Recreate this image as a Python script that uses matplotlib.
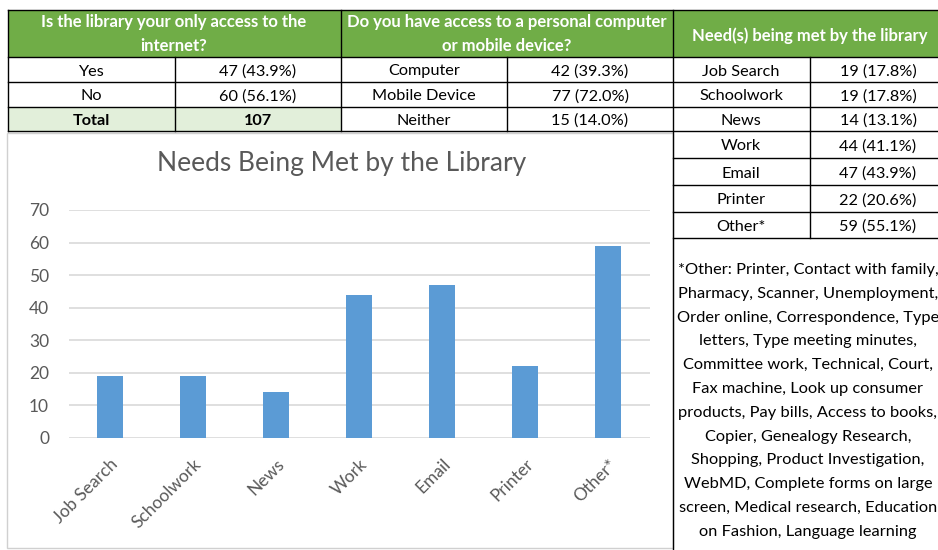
import numpy as np
import matplotlib.pyplot as plt

plt.rcParams['font.family'] = ['Lato', 'DejaVu Sans']

''' Data '''
needs = ['Job Search', 'Schoolwork', 'News', 'Work', 'Email', 'Printer', 'Other*']
need_counts = [19, 19, 14, 44, 47, 22, 59]
need_labels = ['19 (17.8%)', '19 (17.8%)', '14 (13.1%)', '44 (41.1%)',
               '47 (43.9%)', '22 (20.6%)', '59 (55.1%)']

only_access_rows = ['Yes', 'No', 'Total']
only_access_vals = ['47 (43.9%)', '60 (56.1%)', '107']

device_rows = ['Computer', 'Mobile Device', 'Neither']
device_vals = ['42 (39.3%)', '77 (72.0%)', '15 (14.0%)']

other_note = [
    '*Other: Printer, Contact with family,',
    'Pharmacy, Scanner, Unemployment,',
    'Order online, Correspondence, Type',
    'letters, Type meeting minutes,',
    'Committee work, Technical, Court,',
    'Fax machine, Look up consumer',
    'products, Pay bills, Access to books,',
    'Copier, Genealogy Research,',
    'Shopping, Product Investigation,',
    'WebMD, Complete forms on large',
    'screen, Medical research, Education',
    'on Fashion, Language learning',
]

''' Style '''
green = '#70AD47'
light_green = '#E2EFDA'
bar_blue = '#5B9BD5'
grey_text = '#595959'
grid_grey = '#D9D9D9'
fs_cell = 11.7
fs_head = 12
dy = 2  # nudge text down to sit in the cell middle

fig = plt.figure(figsize=[9.38, 5.5], dpi=100)

''' Background layer in pixel coordinates '''
bg = fig.add_axes([0, 0, 1, 1])
bg.set_xlim(0, 938)
bg.set_ylim(550, 0)
bg.axis('off')

# chart frame
bg.add_patch(plt.Rectangle((7, 133), 666, 415, fill=False, ec='#D0D0D0', lw=1))

# header fills
bg.add_patch(plt.Rectangle((8, 10), 939, 47, fc=green, ec='none'))
bg.add_patch(plt.Rectangle((8, 107), 333, 24, fc=light_green, ec='none'))

# header texts
bg.text(174, 34, 'Is the library your only access to the\ninternet?', ha='center', va='center',
        color='white', fontweight='bold', fontsize=fs_head, linespacing=1.6)
bg.text(507, 34, 'Do you have access to a personal computer\nor mobile device?', ha='center',
        va='center', color='white', fontweight='bold', fontsize=fs_head, linespacing=1.6)
bg.text(810, 34 + dy, 'Need(s) being met by the library', ha='center', va='center',
        color='white', fontweight='bold', fontsize=fs_head)

row_y = [57, 82, 107, 131, 158, 185, 212, 238]

# first two tables
for i in range(3):
    yc = (row_y[i] + row_y[i + 1]) / 2 + dy
    weight = 'bold' if only_access_rows[i] == 'Total' else 'normal'
    bg.text(91, yc, only_access_rows[i], ha='center', va='center', fontsize=fs_cell, fontweight=weight)
    bg.text(258, yc, only_access_vals[i], ha='center', va='center', fontsize=fs_cell, fontweight=weight)
    bg.text(424, yc, device_rows[i], ha='center', va='center', fontsize=fs_cell)
    bg.text(590, yc, device_vals[i], ha='center', va='center', fontsize=fs_cell)

# right table
for i, (name, lab) in enumerate(zip(needs, need_labels)):
    yc = (row_y[i] + row_y[i + 1]) / 2 + dy
    bg.text(741, yc, name, ha='center', va='center', fontsize=fs_cell)
    bg.text(878, yc, lab, ha='center', va='center', fontsize=fs_cell)

# grid lines of the tables
lw = 1.0
bg.plot([8, 947], [10, 10], color='black', lw=lw)
bg.plot([8, 947], [57, 57], color='black', lw=lw)
for y in [82, 107, 131]:
    bg.plot([8, 947], [y, y], color='black', lw=lw)
for y in [158, 185, 212, 238]:
    bg.plot([673, 947], [y, y], color='black', lw=lw)
for x in [8, 341]:
    bg.plot([x, x], [10, 131], color='black', lw=lw)
for x in [175, 507]:
    bg.plot([x, x], [57, 131], color='black', lw=lw)
bg.plot([673, 673], [10, 550], color='black', lw=lw)
bg.plot([810, 810], [57, 238], color='black', lw=lw)

# footnote
for i, line in enumerate(other_note):
    bg.text(808, 270 + i * 23.8, line, ha='center', va='center', fontsize=11.8)

''' Bar chart '''
ax = fig.add_axes([68.5 / 938, (550 - 438) / 550, 581 / 938, 228 / 550])
x = np.arange(len(needs))
ax.bar(x, need_counts, width=0.31, color=bar_blue, zorder=3)
ax.set_xlim(-0.5, len(needs) - 0.5)
ax.set_ylim(0, 70)
ax.set_yticks(range(0, 71, 10))
ax.yaxis.grid(True, color=grid_grey, lw=1.2, zorder=0)
ax.set_xticks(x)
ax.set_xticklabels(needs, rotation=45, ha='right', rotation_mode='anchor')
ax.tick_params(axis='y', length=0, pad=14, labelsize=12.5, labelcolor=grey_text)
ax.tick_params(axis='x', length=0, pad=13, labelsize=12.5, labelcolor=grey_text)
for s in ax.spines.values():
    s.set_visible(False)
ax.set_facecolor('none')
fig.text(342 / 938, (550 - 164) / 550, 'Needs Being Met by the Library', ha='center', va='center',
         fontsize=19, color=grey_text)

plt.savefig('out.png', dpi=100)
